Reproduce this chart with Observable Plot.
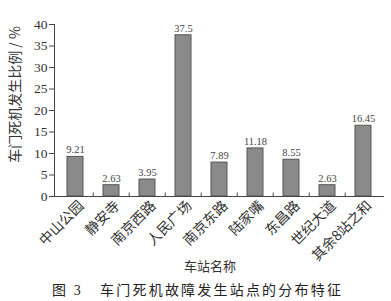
<!DOCTYPE html>
<html>
<head>
<meta charset="utf-8">
<script src="https://cdn.jsdelivr.net/npm/d3@7"></script>
<script src="https://cdn.jsdelivr.net/npm/@observablehq/plot@0.6"></script>
<style>
  html, body { margin: 0; padding: 0; background: #fff; }
  #chart { width: 391px; }
  .caption { width: 391px; height: 21px; line-height: 21px; text-align: center; font-family: "Liberation Serif", "Noto Sans CJK SC", serif; font-size: 14px; letter-spacing: 2.2px; color: #222; padding-left: 4px; box-sizing: border-box; }
</style>
</head>
<body>
<div id="chart"></div>
<div class="caption">图 3&nbsp;&nbsp;&nbsp;车门死机故障发生站点的分布特征</div>
<script>
const stations = ["中山公园","静安寺","南京西路","人民广场","南京东路","陆家嘴","东昌路","世纪大道","其余8站之和"];
const shares = [9.21, 2.63, 3.95, 37.5, 7.89, 11.18, 8.55, 2.63, 16.45];
const shareLabels = ["9.21","2.63","3.95","37.5","7.89","11.18","8.55","2.63","16.45"];
const yTicks = [0, 5, 10, 15, 20, 25, 30, 35, 40];
const yTitle = "车门死机发生比例 / %";
const xTitle = "车站名称";

const data = stations.map((s, i) => ({station: s, share: shares[i], label: shareLabels[i]}));

const W = 391, H = 280, ML = 54, MR = 8;
const step = (W - ML - MR) / stations.length;

const chart = Plot.plot({
  width: W,
  height: H,
  marginLeft: ML,
  marginRight: MR,
  marginTop: 24,
  marginBottom: 84,
  style: {fontFamily: "'Liberation Serif', 'Noto Sans CJK SC', serif", color: "#333", background: "#fff"},
  x: {domain: stations, paddingInner: 0.56, paddingOuter: 0.28},
  y: {domain: [0, 40]},
  marks: [
    Plot.barY(data, {x: "station", y: "share", fill: "#8a8a8a", stroke: "#555", strokeWidth: 1}),
    Plot.text(data, {x: "station", y: "share", text: "label", dy: -7, fontSize: 10.5, fill: "#444"}),
    Plot.frame({anchor: "left", stroke: "#444"}),
    Plot.frame({anchor: "bottom", stroke: "#444"}),
    Plot.ruleX(stations.slice(1), {x: d => d, dx: -step / 2, y1: 0, y2: 0.8, stroke: "#444"}),
    Plot.axisY({ticks: yTicks, tickSize: 5, tickPadding: 2, fontSize: 13.5, label: null, stroke: "#444"}),
    Plot.axisX({tickRotate: -45, tickSize: 0, tickPadding: 7, fontSize: 14, label: null, fontFamily: "'Noto Sans CJK SC', sans-serif", dx: 6}),
    Plot.text([yTitle], {text: d => d, frameAnchor: "left", textAnchor: "middle", rotate: -90, dx: -39, dy: -16, fontSize: 14, fontFamily: "'Noto Sans CJK SC', sans-serif", fill: "#333"}),
    Plot.text([xTitle], {text: d => d, frameAnchor: "bottom", dy: 74, dx: -9, fontSize: 13, fontFamily: "'Noto Sans CJK SC', sans-serif", fill: "#333"})
  ]
});
document.getElementById("chart").appendChild(chart);
</script>
</body>
</html>
